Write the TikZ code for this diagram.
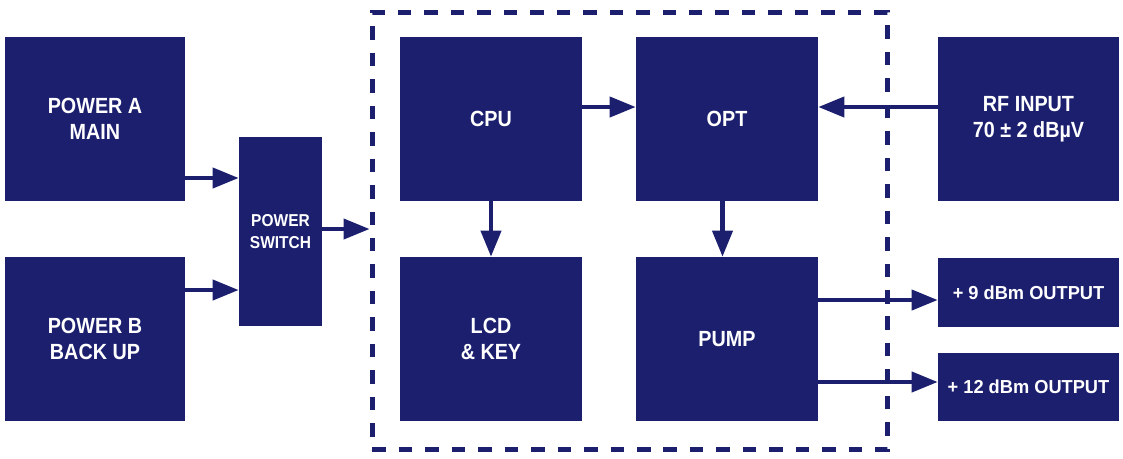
\documentclass[tikz,border=0pt]{standalone}
\usepackage{fontspec}
\usepackage{tikz}
\usetikzlibrary{arrows.meta}
\newfontfamily\blkfont{Liberation Sans}[FakeStretch=0.9]
\newfontfamily\outfont{Liberation Sans}[FakeStretch=0.97]
\definecolor{navy}{HTML}{1B1F6E}

\begin{document}
\begin{tikzpicture}[x=0.02cm,y=-0.02cm,
    blk/.style={fill=navy,text=white,align=center,inner sep=0pt,
        font=\blkfont\bfseries\fontsize{12.5}{14.8}\selectfont},
    big/.style={blk,minimum width=3.6cm,minimum height=3.28cm},
    arr/.style={draw=navy,line width=2.3pt,-{Triangle[length=0.52cm,width=0.4cm]}}]
\useasboundingbox (0,0) rectangle (1123,458);
\node[draw=navy,line width=0.1cm,dash pattern=on 0.27cm off 0.26cm,
    minimum width=10.32cm,minimum height=8.76cm,inner sep=0pt] (core) at (630,231) {};
    \node[big] (pwra) at (95,119) {POWER A\\MAIN};
    \node[big] (pwrb) at (95,339) {POWER B\\BACK UP};
    \node[blk,minimum width=1.66cm,minimum height=3.78cm,
        font=\blkfont\bfseries\fontsize{9.8}{12.5}\selectfont] (sw) at (280.5,231.5) {POWER\\SWITCH};
    \node[big,minimum width=3.64cm] (cpu) at (491,119) {CPU};
    \node[big,minimum width=3.64cm] (opt) at (727,119) {OPT};
    \node[big,minimum width=3.64cm] (lcd) at (491,339) {LCD\\\& KEY};
    \node[big,minimum width=3.64cm] (pump) at (727,339) {PUMP};
    \node[big,minimum width=3.62cm] (rf) at (1028.5,119) {RF INPUT\\70 ± 2 dBµV};
    \node[blk,minimum width=3.62cm,minimum height=1.38cm,
        font=\outfont\bfseries\fontsize{10.7}{12}\selectfont] (out9) at (1028.5,292.5) {+ 9 dBm OUTPUT};
    \node[blk,minimum width=3.62cm,minimum height=1.36cm,
        font=\outfont\bfseries\fontsize{10.7}{12}\selectfont] (out12) at (1028.5,387) {+ 12 dBm OUTPUT};
    \draw[arr] ([yshift=-1.18cm]pwra.east) -- ([yshift=-1.18cm]pwra.east -| sw.west);
    \draw[arr] ([yshift=0.98cm]pwrb.east) -- ([yshift=0.98cm]pwrb.east -| sw.west);
    \draw[arr] ([yshift=0.05cm]sw.east) -- ([yshift=0.05cm]sw.east -| core.west);
    \draw[arr] ([yshift=0.24cm]cpu.east) -- ([yshift=0.24cm]opt.west);
    \draw[arr] ([yshift=0.24cm]rf.west) -- ([yshift=0.24cm]opt.east);
    \draw[arr] (cpu.south) -- (lcd.north);
    \draw[arr] ([xshift=-0.09cm]opt.south) -- ([xshift=-0.09cm]pump.north);
    \draw[arr] ([yshift=0.78cm]pump.east) -- ([yshift=0.78cm]pump.east -| out9.west);
    \draw[arr] ([yshift=-0.86cm]pump.east) -- ([yshift=-0.86cm]pump.east -| out12.west);
\end{tikzpicture}
\end{document}
